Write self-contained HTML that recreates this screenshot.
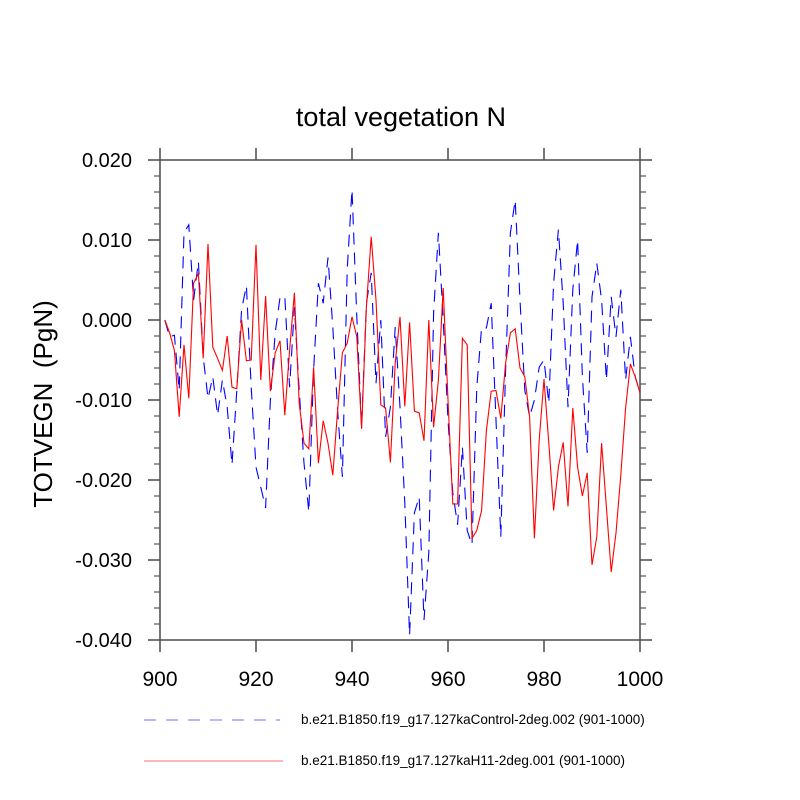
<!DOCTYPE html>
<html><head><meta charset="utf-8"><style>
html,body{margin:0;padding:0;background:#fff;}
svg{display:block;font-family:"Liberation Sans",sans-serif;}
</style></head><body>
<svg id="chart" width="800" height="800" viewBox="0 0 800 800">
<text x="401" y="126" text-anchor="middle" font-size="27" fill="#000">total vegetation N</text>
<text transform="translate(52,404) rotate(-90)" text-anchor="middle" font-size="26" fill="#000">TOTVEGN&#160; (PgN)</text>
<g id="axes"></g>
<g id="series"></g>
<g>
<line x1="144" y1="720" x2="280" y2="720" stroke="#6f6fff" stroke-width="1" stroke-dasharray="12 10"/>
<text x="301" y="724" font-size="13.5" fill="#000">b.e21.B1850.f19_g17.127kaControl-2deg.002 (901-1000)</text>
<line x1="144" y1="761" x2="283" y2="761" stroke="#ff7070" stroke-width="1"/>
<text x="301" y="765" font-size="13.5" fill="#000">b.e21.B1850.f19_g17.127kaH11-2deg.001 (901-1000)</text>
</g>
</svg>
<script>
// values in units of 0.001 PgN, years 901..1000
const years = Array.from({length:100},(_,i)=>901+i);
const controlValues = [0,-2.1,-1.9,-8.8,10.9,11.9,2.5,7.3,-4.6,-9.8,-7.1,-11.9,-7.5,-10.9,-18.1,-8.8,1.3,4.3,-8.4,-18.4,-20.9,-23.5,-10.0,-1.6,2.8,3.0,-8.4,1.6,-8.8,-17.9,-24.0,-6.3,4.6,2.1,7.8,-0.9,-11.3,-19.6,6.3,16.3,0.4,-13.4,2.1,5.9,-7.9,0,-14.6,-10.9,-0.9,-10.9,-22.9,-39.4,-24.1,-22.1,-37.5,-29.1,0.9,10.9,0,-12.5,-21.6,-25.6,-15.9,-26.3,-28.1,-8.4,-0.9,-1.0,2.1,-12.5,-27.1,-6.3,10.9,15.0,2.5,-8.8,-12.1,-10.0,-5.9,-5.0,-10.4,4.6,11.3,2.1,-10.9,3.8,10.0,-7.1,-16.6,2.9,7.1,2.5,-7.5,2.9,-2.1,3.8,-7.5,-2.1,-7.1,-9.1];
const h11Values = [0,-1.6,-3.8,-12.1,-3.1,-9.8,4.6,5.8,-4.8,9.5,-3.4,-4.8,-6.3,-2.0,-8.4,-8.6,0,-5.1,-5.0,9.4,-7.5,3.0,-8.9,-4.1,-2.6,-11.9,-3.8,3.4,-10.4,-15.4,-16.1,-5.9,-17.9,-12.6,-15.4,-19.4,-11.3,-4.1,-2.9,0.4,-2.1,-13.6,1.6,10.4,2.5,-10.6,-11.0,-17.8,-5.4,0.4,-10.8,-0.3,-11.4,-11.6,-15.1,0,-13.4,-7.5,4.0,-10.0,-23.0,-23.0,-2.3,-3.1,-27.3,-26.3,-23.8,-13.8,-8.9,-8.8,-12.3,-5.4,-1.6,-1.1,-6.0,-7.1,-12.1,-27.3,-15.0,-7.4,-15.4,-23.8,-18.4,-15.3,-23.3,-11.0,-18.4,-22.0,-19.1,-30.6,-27.1,-15.4,-23.4,-31.5,-26.6,-19.4,-11.0,-5.5,-7.1,-9.1];
const xTicks = [900,920,940,960,980,1000];
const yTicks = [0.020,0.010,0.000,-0.010,-0.020,-0.030,-0.040];
const yMinorTicks = [0.018,0.016,0.014,0.012,0.008,0.006,0.004,0.002,-0.002,-0.004,-0.006,-0.008,-0.012,-0.014,-0.016,-0.018,-0.022,-0.024,-0.026,-0.028,-0.032,-0.034,-0.036,-0.038];

const L=160,R=640,T=160,B=640;
const xs = v => L + (v-900)/100*(R-L);
const ys = v => T + (0.020 - v)/0.060*(B-T);
const NS='http://www.w3.org/2000/svg';
const axes=document.getElementById('axes'), series=document.getElementById('series');
function mk(tag,attrs,parent){const e=document.createElementNS(NS,tag);for(const k in attrs)e.setAttribute(k,attrs[k]);parent.appendChild(e);return e;}
const ax='#555';
let fr=mk('rect',{x:L,y:T,width:R-L,height:B-T,fill:'none',stroke:ax,'stroke-width':1.6},axes);


xTicks.forEach(t=>{
  const x=xs(t);
  let a=mk('line',{x1:x,y1:B,x2:x,y2:B+12,stroke:ax,'stroke-width':1.6},axes);
  
  
  let b=mk('line',{x1:x,y1:T,x2:x,y2:T-12,stroke:ax,'stroke-width':1.6},axes);
  
  
  let tx=mk('text',{x:x,y:686,'text-anchor':'middle','font-size':21,fill:'#000'},axes);
  tx.textContent=String(t);
  
  
});
yTicks.forEach(t=>{
  const y=ys(t);
  let a=mk('line',{x1:L-12,y1:y,x2:L,y2:y,stroke:ax,'stroke-width':1.6},axes);
  
  
  let b=mk('line',{x1:R,y1:y,x2:R+12,y2:y,stroke:ax,'stroke-width':1.6},axes);
  
  
  let tx=mk('text',{x:132,y:y+7,'text-anchor':'end','font-size':20,fill:'#000'},axes);
  tx.textContent=t.toFixed(3);
  
  
});
yMinorTicks.forEach(t=>{
  const y=ys(t);
  let a=mk('line',{x1:L-6,y1:y,x2:L,y2:y,stroke:ax,'stroke-width':1.2},axes);
  
  
  let b=mk('line',{x1:R,y1:y,x2:R+6,y2:y,stroke:ax,'stroke-width':1.2},axes);
  
  
});
function pts(vals){return vals.map((v,i)=>xs(years[i]).toFixed(2)+','+ys(v/1000).toFixed(2)).join(' ');}
let pc=mk('polyline',{points:pts(controlValues),fill:'none',stroke:'#0000ff','stroke-width':1.1,'stroke-dasharray':'12 8'},series);


let ph=mk('polyline',{points:pts(h11Values),fill:'none',stroke:'#ff0000','stroke-width':1.1},series);


</script>
</body></html>
